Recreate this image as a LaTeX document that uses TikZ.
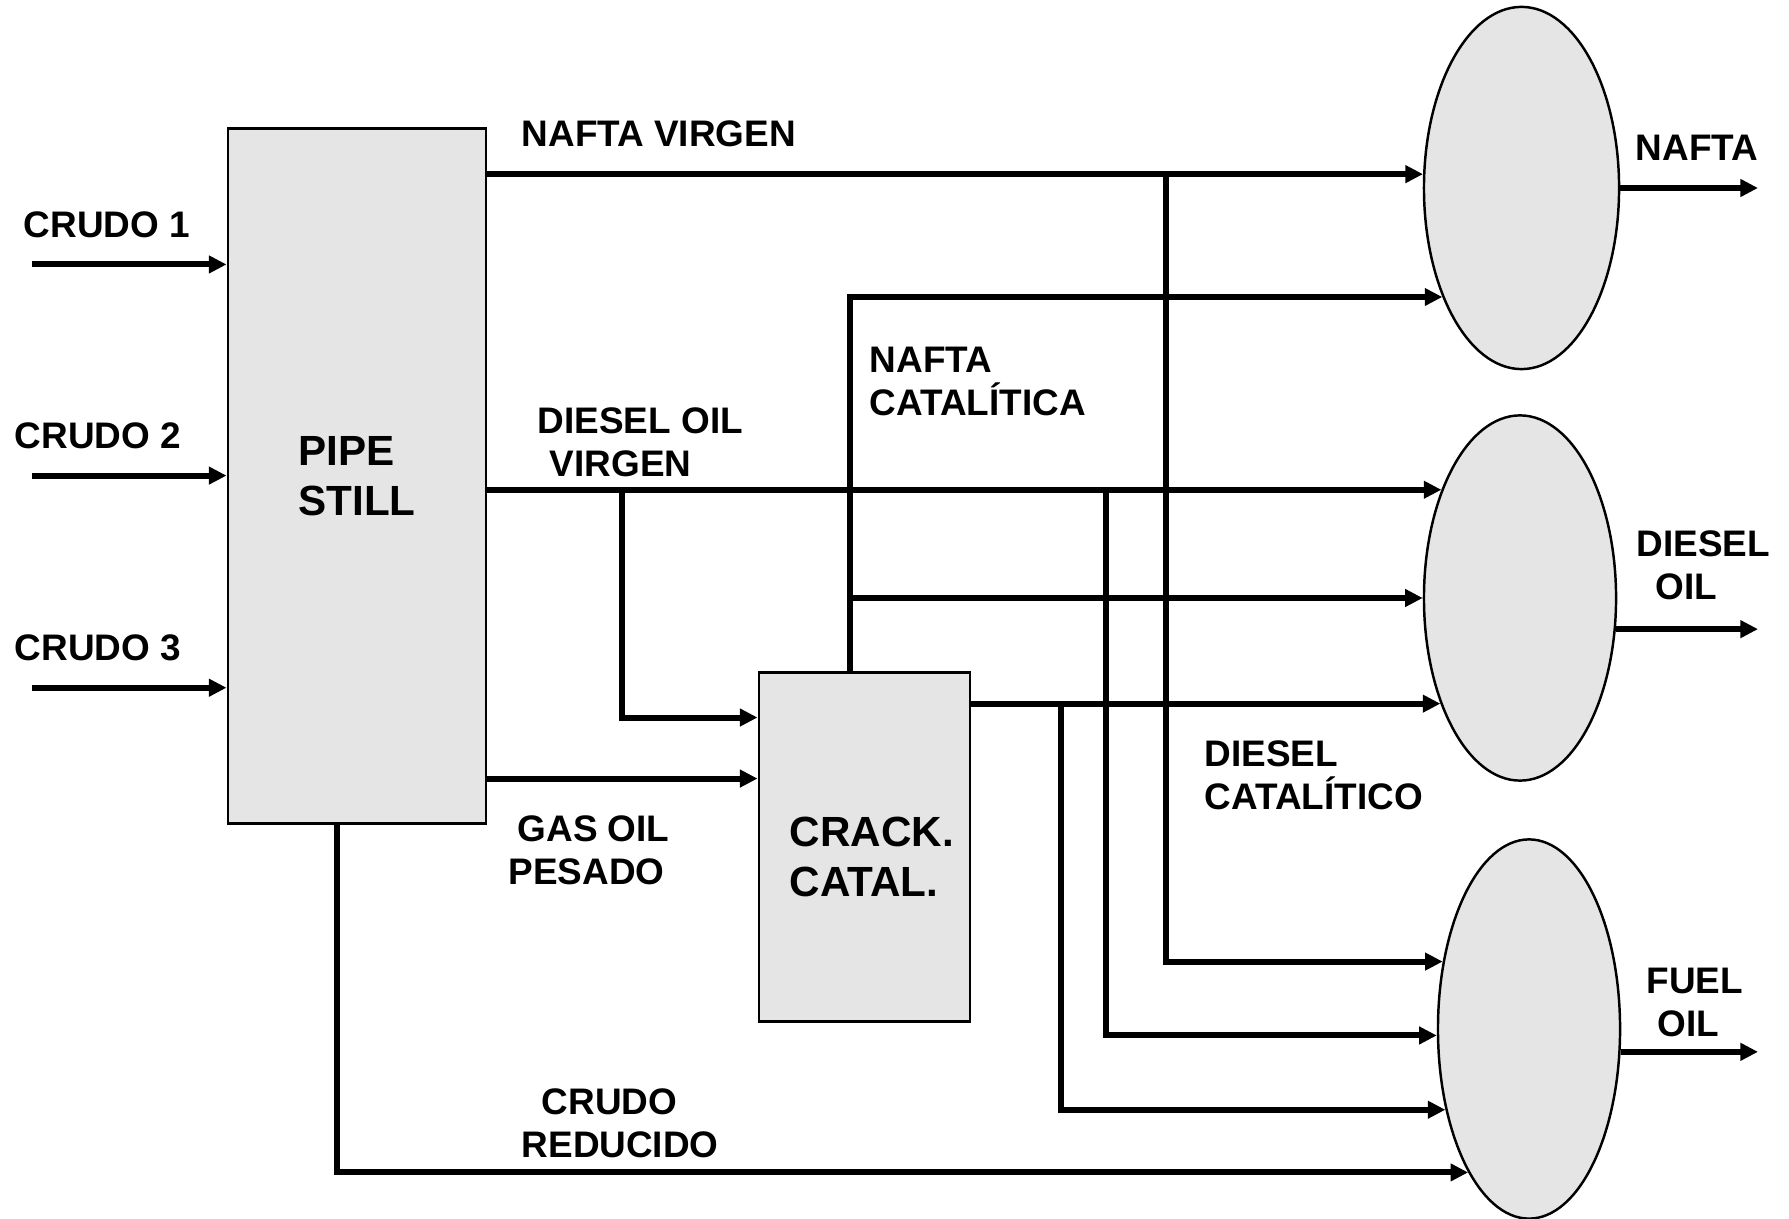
\documentclass[tikz,border=0pt]{standalone}
\usepackage{fontspec}
\setmainfont{Liberation Sans}
\usetikzlibrary{arrows.meta,shapes.geometric}

\begin{document}
\begin{tikzpicture}[
  x=0.01cm,y=-0.01cm,
  unit/.style={draw, line width=0.8pt, fill=black!10, align=left, inner sep=0pt, font=\bfseries\fontsize{12}{14.2}\selectfont},
  tank/.style={draw, ellipse, line width=0.7pt, fill=black!10, inner sep=0pt},
  lbl/.style={anchor=north west, align=left, inner sep=0pt, font=\bfseries\fontsize{10.5}{12.2}\selectfont},
  arr/.style={-{Triangle[length=5pt,width=4.8pt]}, line width=1.7pt}
]
\useasboundingbox (0,0) rectangle (1789,1219);
\node[unit, minimum width=2.58cm, minimum height=6.94cm] (ps) at (357,476) {PIPE\\STILL};
\node[unit, minimum width=2.11cm, minimum height=3.48cm] (cc) at (864.5,847) {\rule{0pt}{0.5cm}\hspace*{0.15cm}CRACK.\\\hspace*{0.15cm}CATAL.};
\node[tank, minimum width=1.95cm, minimum height=3.62cm] (e1) at (1521.5,188) {};
\node[tank, minimum width=1.92cm, minimum height=3.65cm] (e2) at (1520,598) {};
\node[tank, minimum width=1.82cm, minimum height=3.79cm] (e3) at (1529,1029) {};

\coordinate (xin) at (32,0);
\coordinate (xout) at (1758,0);
\coordinate (jr) at (337,0);
\coordinate (jv) at (622,0);
\coordinate (jn) at (850,0);
\coordinate (jd) at (1061,0);
\coordinate (jf) at (1106,0);
\coordinate (jk) at (1166,0);
\coordinate (vin) at ([yshift=-0.46cm]cc.north west);
\coordinate (gin) at ([yshift=-1.07cm]cc.north west);

\foreach \k/\dy in {1/-1.37cm,2/-3.48cm,3/-5.60cm}{
  \coordinate (in\k) at ([yshift=\dy]ps.north west);
  \draw[arr] (in\k -| xin) -- (in\k);
}
\draw[arr] (ps.east |- e1.172) -- (e1.172);
\draw[arr] (jk |- e1.172) |- (e3.142);
\draw[arr] (ps.east |- e2.126) -- (e2.126);
\draw[arr] (jf |- e2.126) |- (e3.184);
\draw[arr] (jv |- e2.126) |- (vin);
\draw[arr] (ps.east |- gin) -- (gin);
\draw[arr] (ps.south -| jr) |- (e3.247);
\draw[arr] (cc.north -| jn) |- (e1.234);
\draw[arr] (jn |- e2.west) -- (e2.west);
\draw[arr] (cc.east |- e2.233) -- (e2.233);
\draw[arr] (jd |- e2.233) |- (e3.224);
\draw[arr] (e1.east) -- (e1.east -| xout);
\draw[arr] (e2.-18) -- (e2.-18 -| xout);
\draw[arr] (e3.-14) -- (e3.-14 -| xout);

\node[lbl] (l1) at (23,211) {CRUDO 1};
\node[lbl] (l2) at (14,422) {CRUDO 2};
\node[lbl] (l3) at (14,634) {CRUDO 3};
\node[lbl] (lnv) at (521,120) {NAFTA VIRGEN};
\node[lbl] (ldv) at (537,407) {DIESEL OIL\\\hspace*{0.12cm}VIRGEN};
\node[lbl] (lgo) at (508,815) {\hspace*{0.09cm}GAS OIL\\PESADO};
\node[lbl] (lcr) at (521,1088) {\hspace*{0.2cm}CRUDO\\REDUCIDO};
\node[lbl] (lnc) at (869,346) {NAFTA\\CATALÍTICA};
\node[lbl] (ldc) at (1204,740) {DIESEL\\CATALÍTICO};
\node[lbl] (lna) at (1635,134) {NAFTA};
\node[lbl] (ldo) at (1636,530) {DIESEL\\\hspace*{0.19cm}OIL};
\node[lbl] (lfo) at (1646,967) {FUEL\\\hspace*{0.11cm}OIL};
\end{tikzpicture}
\end{document}
